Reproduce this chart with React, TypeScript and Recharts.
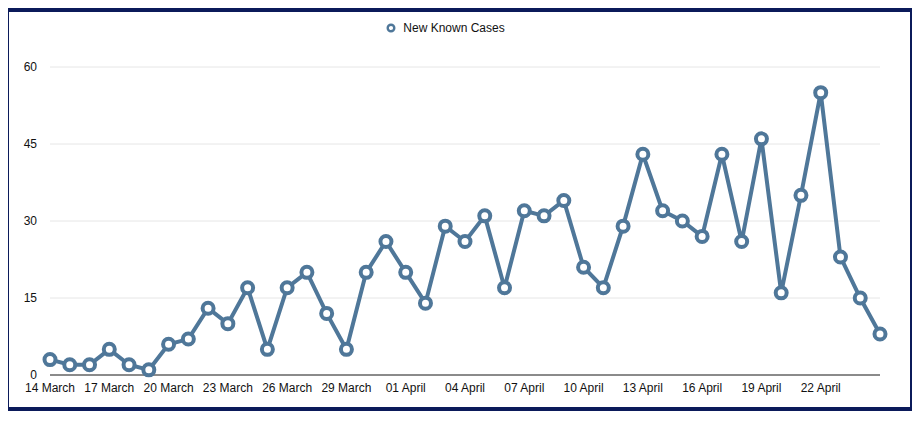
import { LineChart, Line, XAxis, YAxis, CartesianGrid, Legend } from 'recharts';

const days = [
  '14 March', '15 March', '16 March', '17 March', '18 March', '19 March', '20 March', '21 March',
  '22 March', '23 March', '24 March', '25 March', '26 March', '27 March', '28 March', '29 March',
  '30 March', '31 March', '01 April', '02 April', '03 April', '04 April', '05 April', '06 April',
  '07 April', '08 April', '09 April', '10 April', '11 April', '12 April', '13 April', '14 April',
  '15 April', '16 April', '17 April', '18 April', '19 April', '20 April', '21 April', '22 April',
  '23 April', '24 April', '25 April',
];

const newCases = [
  3, 2, 2, 5, 2, 1, 6, 7, 13, 10, 17, 5, 17, 20, 12, 5, 20, 26, 20, 14, 29, 26, 31, 17, 32, 31, 34,
  21, 17, 29, 43, 32, 30, 27, 43, 26, 46, 16, 35, 55, 23, 15, 8,
];

const xTicks = [
  '14 March', '17 March', '20 March', '23 March', '26 March', '29 March', '01 April', '04 April',
  '07 April', '10 April', '13 April', '16 April', '19 April', '22 April',
];
const yTicks = [0, 15, 30, 45, 60];

const lineColor = '#4f7799';

const data = days.map((d, i) => ({ day: d, cases: newCases[i] }));

function LegendBox() {
  return (
    <div style={{ display: 'flex', justifyContent: 'center', alignItems: 'center', height: 30, paddingTop: 2, boxSizing: 'border-box', fontSize: 12, color: '#111' }}>
      <svg width={10} height={10} style={{ marginRight: 7, marginLeft: 2 }}>
        <circle cx={5} cy={5} r={3.3} fill="#fff" stroke={lineColor} strokeWidth={2.4} />
      </svg>
      <span>New Known Cases</span>
    </div>
  );
}

export default function App() {
  return (
    <div
      style={{
        marginLeft: -3,
        width: 901,
        height: 395,
        border: '4px solid #0b1a5a',
        background: '#fff',
        fontFamily: 'Arial, "Liberation Sans", Helvetica, sans-serif',
      }}
    >
      <LineChart width={901} height={395} data={data} margin={{ top: 25, right: 30, left: 0, bottom: 0 }}>
        <CartesianGrid vertical={false} stroke="#e6e6e6" />
        <Legend verticalAlign="top" content={<LegendBox />} wrapperStyle={{ top: 0 }} />
        <XAxis
          dataKey="day"
          ticks={xTicks}
          interval={0}
          tickLine={false}
          tickSize={6}
          tickMargin={2}
          stroke="#222"
          tick={{ fill: '#111', fontSize: 12 }}
          height={32}
        />
        <YAxis
          domain={[0, 60]}
          ticks={yTicks}
          axisLine={false}
          tickLine={false}
          tickSize={6}
          tickMargin={7}
          width={41}
          tick={{ fill: '#111', fontSize: 12 }}
        />
        <Line
          type="linear"
          dataKey="cases"
          name="New Known Cases"
          stroke={lineColor}
          strokeWidth={4}
          dot={{ r: 5.5, fill: '#fff', stroke: lineColor, strokeWidth: 4 }}
          activeDot={false}
          isAnimationActive={false}
        />
      </LineChart>
    </div>
  );
}
